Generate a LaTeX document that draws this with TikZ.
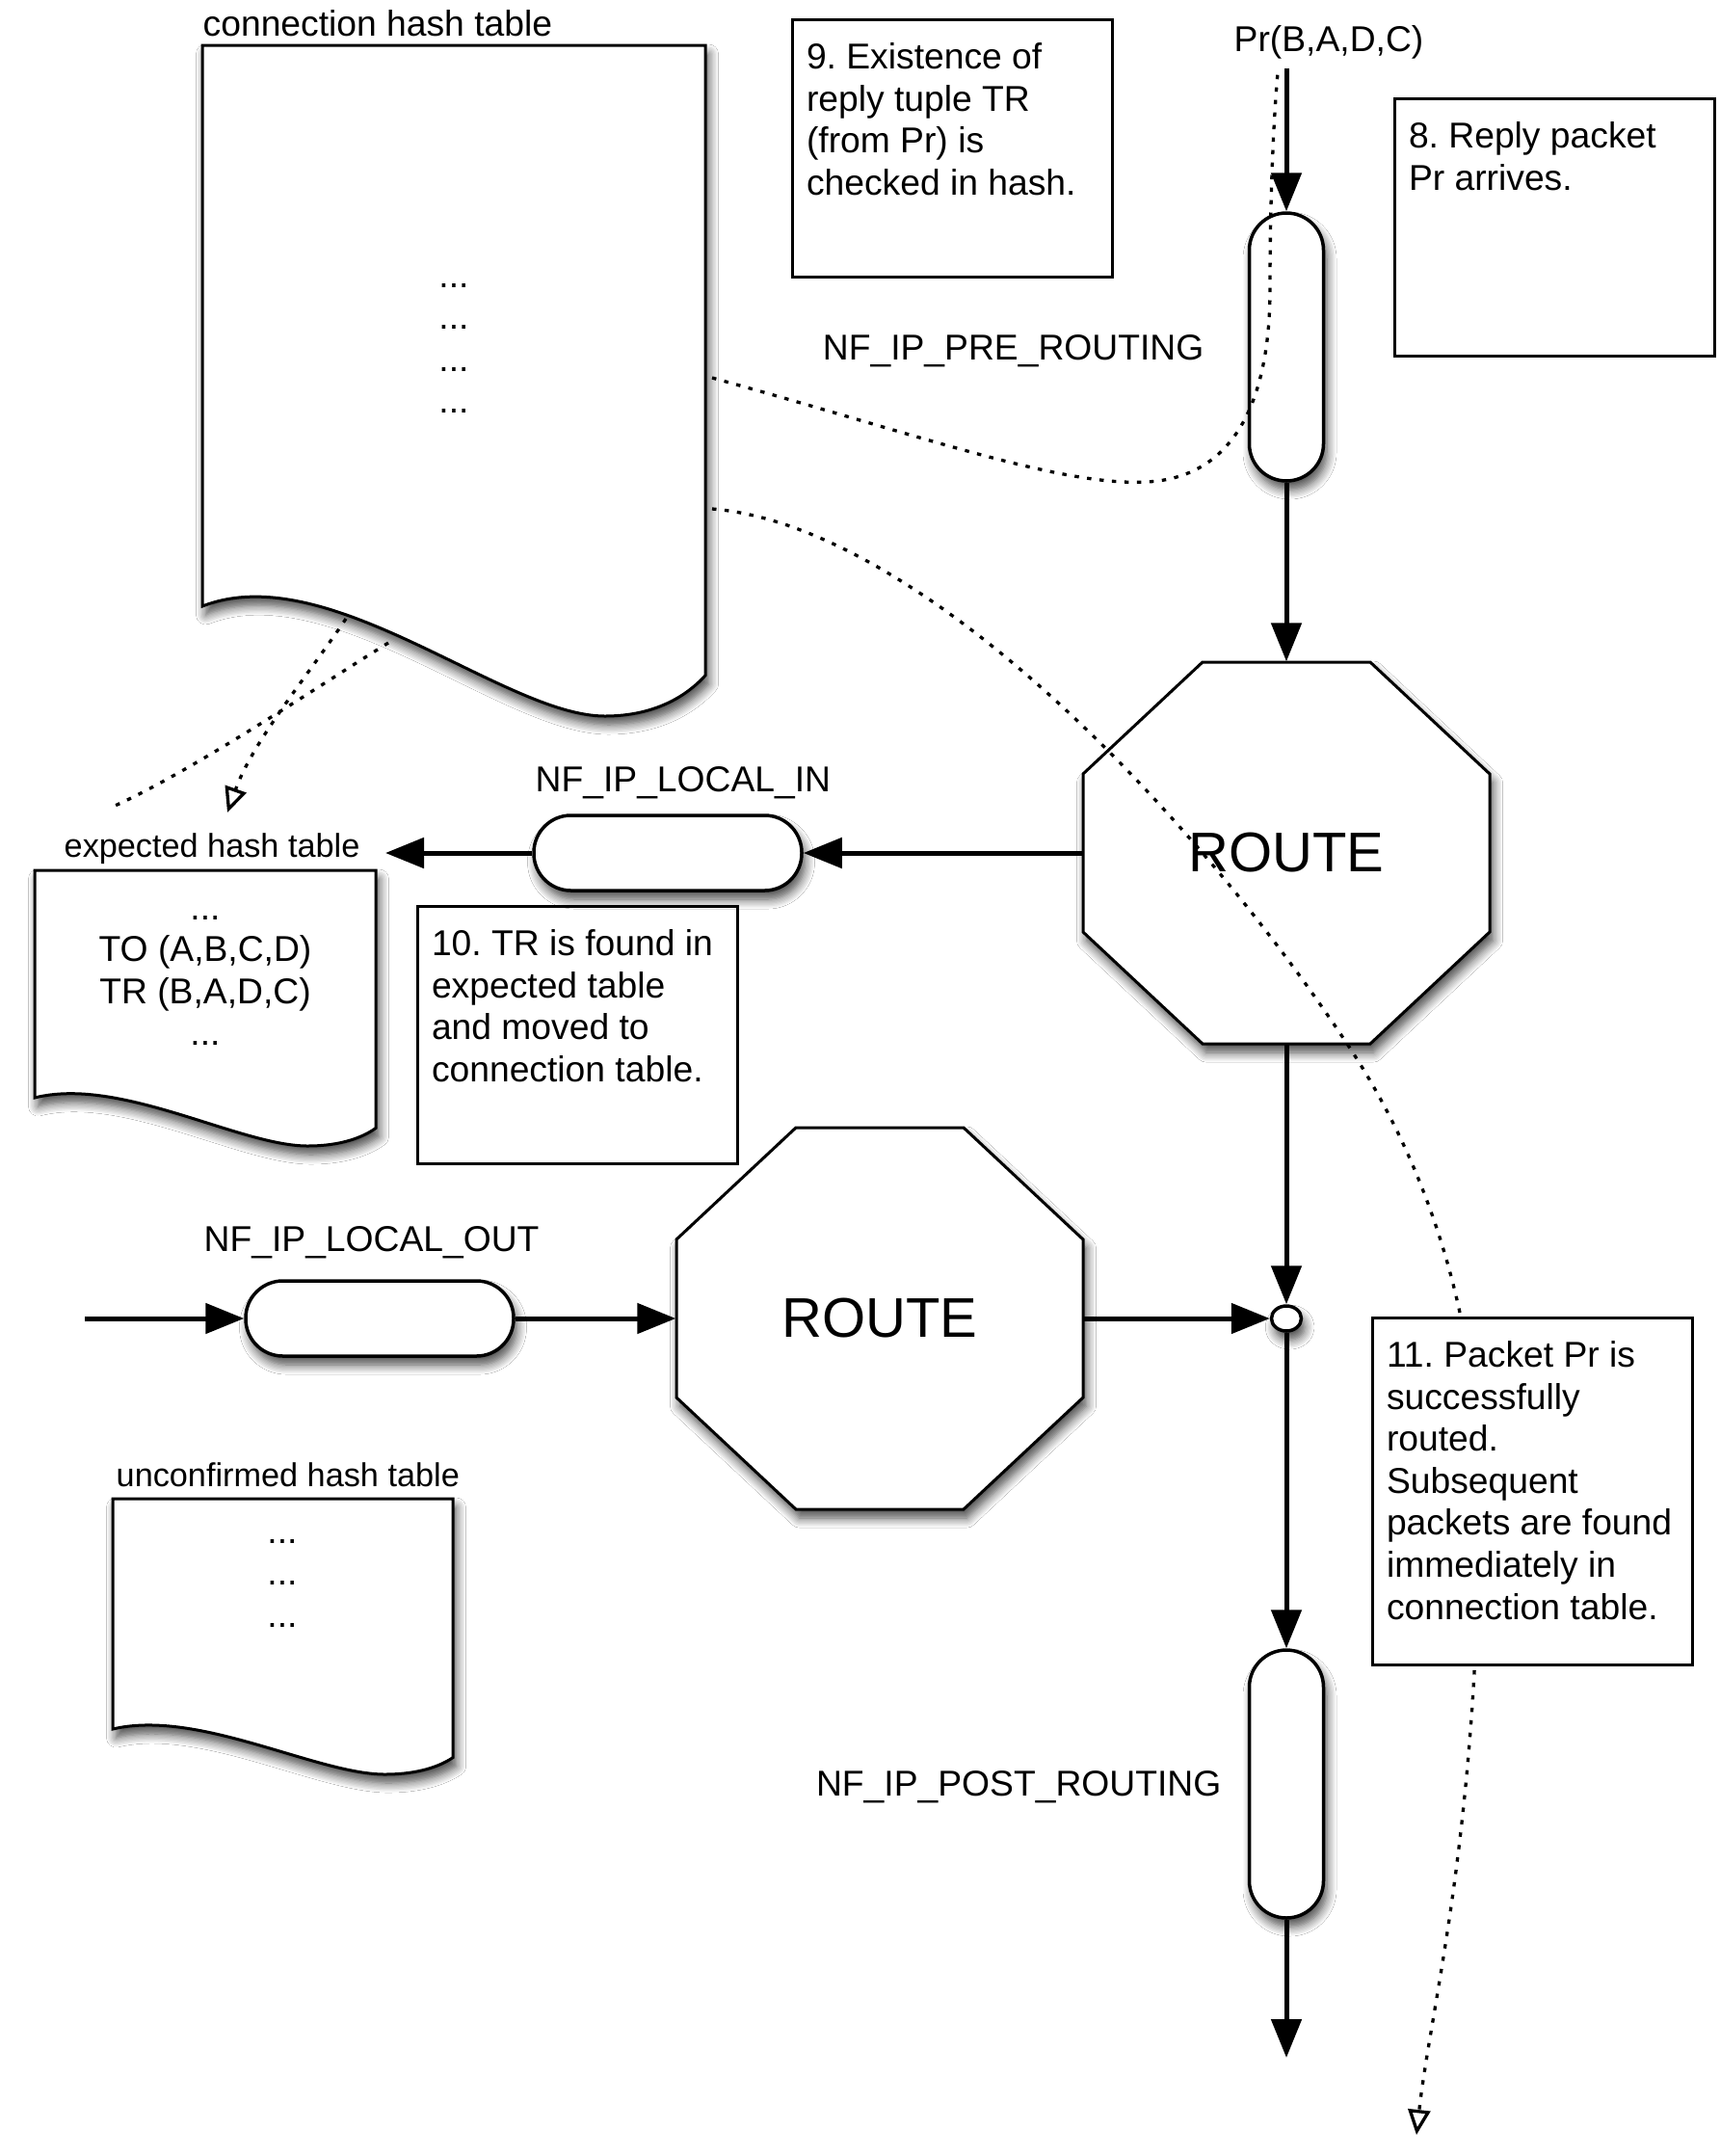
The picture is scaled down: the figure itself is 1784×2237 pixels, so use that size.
\documentclass[tikz,border=0pt]{standalone}
\usepackage{fontspec}
\setmainfont{Liberation Sans}
\usetikzlibrary{arrows.meta,shapes.geometric,shadows.blur}
\frenchspacing

\begin{document}
\begin{tikzpicture}[x=0.1mm, y=-0.1mm, >={Triangle[length=4mm,width=3.1mm]},
  font=\fontsize{10.6pt}{12.4pt}\selectfont,
  softshadow/.style={blur shadow={shadow xshift=0.35mm, shadow yshift=-0.9mm,
      shadow blur radius=1mm, shadow blur steps=8, shadow opacity=72}},
  docline/.style={draw, fill=white, line width=0.3mm, softshadow},
  octline/.style={draw, fill=white, line width=0.3mm, softshadow},
  hookbox/.style={draw, fill=white, line width=0.35mm, rounded corners=3.85mm,
      inner sep=0pt, softshadow},
  hookh/.style={hookbox, minimum width=27.8mm, minimum height=7.8mm},
  hookv/.style={hookbox, minimum width=7.7mm, minimum height=27.8mm},
  note/.style={draw, fill=white, line width=0.3mm, anchor=north west,
      inner xsep=1.45mm, inner ysep=2.05mm},
  lbl/.style={inner sep=0pt, anchor=base west},
  lblr/.style={inner sep=0pt, anchor=base east},
  tablbl/.style={lbl, font=\fontsize{9.75pt}{12pt}\selectfont},
  dots/.style={inner sep=0pt, anchor=north, align=center},
  routetxt/.style={inner sep=0pt, minimum width=42.2mm, minimum height=39.6mm,
      font=\fontsize{16.5pt}{19pt}\selectfont},
  flow/.style={->, line width=0.5mm},
  trace/.style={line width=0.33mm, dash pattern=on 0.45mm off 0.85mm},
  pics/hashdoc/.style n args={3}{code={
    \path[docline] (0,0) -- (#1,0) -- (#1,{#2+0.63*#3})
      .. controls ({0.95*#1},{#2+0.88*#3}) and ({0.88*#1},{#2+#3}) .. ({0.8*#1},{#2+#3})
      .. controls ({0.6*#1},{#2+#3}) and ({0.25*#1},{#2-0.45*#3}) .. (0,#2) -- cycle;}},
  pics/octa/.style={code={
    \path[octline] (-87,-198) -- (87,-198) -- (211,-82) -- (211,82) -- (87,198)
      -- (-87,198) -- (-211,82) -- (-211,-82) -- cycle;}}
]
\path[fill=white] (0,0) rectangle (1784,2237);
\useasboundingbox (0,0) rectangle (1784,2237);

% hash tables
\pic at (210,47) {hashdoc={522}{582}{114}};
\node[lbl] (connlbl) at (210,37) {connection hash table};
\node[dots] (conndots) at (471,267) {\strut...\\...\\...\\...};

\pic at (36,903) {hashdoc={354}{236}{50}};
\node[tablbl] (explbl) at (66,889) {expected hash table};
\node[dots] (expdots) at (213,923) {\strut...\\TO (A,B,C,D)\\TR (B,A,D,C)\\...};

\pic at (117,1555) {hashdoc={353}{239}{47}};
\node[tablbl] (unclbl) at (120,1542) {unconfirmed hash table};
\node[dots] (uncdots) at (293,1570) {\strut...\\...\\...};

% notes
\node[note] (n9) at (821,19) {\parbox[t][22.6mm][t]{30.3mm}{\strut 9. Existence of\\reply tuple TR\\(from Pr) is\\checked in hash.}};
\node[note] (n8) at (1446,101) {\parbox[t][22.6mm][t]{30.3mm}{\strut 8. Reply packet\\Pr arrives.}};
\node[note] (n10) at (432,939) {\parbox[t][22.6mm][t]{30.3mm}{\strut 10. TR is found in\\expected table\\and moved to\\connection table.}};

% hooks
\node[lblr] (prelbl) at (1250,373) {NF\_IP\_PRE\_ROUTING};
\node[hookv] (pre) at (1335,360) {};
\node[lbl] (inlbl) at (555,821) {NF\_IP\_LOCAL\_IN};
\node[hookh] (localin) at (693,885) {};
\node[lbl] (outlbl) at (211,1298) {NF\_IP\_LOCAL\_OUT};
\node[hookh] (localout) at (394,1368) {};
\node[lblr] (postlbl) at (1268,1863) {NF\_IP\_POST\_ROUTING};
\node[hookv] (post) at (1335,1851) {};

% routing decisions
\pic at (1335,885) {octa};
\node[routetxt] (route1) at (1335,885) {ROUTE};
\pic at (913,1368) {octa};
\node[routetxt] (route2) at (913,1368) {ROUTE};
\node[draw, fill=white, ellipse, line width=0.35mm, minimum width=3.1mm,
  minimum height=2.6mm, inner sep=0pt, softshadow] (junc) at (1335,1368) {};

% packet path
\node[lbl] (prlbl) at (1280,53) {Pr(B,A,D,C)};
\coordinate (prin) at (1335,71);
\coordinate (expin) at (400,885);
\coordinate (loin) at (88,1368);
\coordinate (postout) at (1335,2135);
\draw[flow] (prin) -- (pre);
\draw[flow] (pre) -- (route1);
\draw[flow] (route1) -- (localin);
\draw[flow] (localin) -- (expin);
\draw[flow] (route1) -- (junc);
\draw[flow] (loin) -- (localout);
\draw[flow] (localout) -- (route2);
\draw[flow] (route2) -- (junc);
\draw[flow] (junc) -- (post);
\draw[flow] (post) -- (postout);

% lookups
\coordinate (ta) at (739,392);
\coordinate (tb) at (739,528);
\coordinate (tc) at (359,642);
\coordinate (td) at (403,667);
\coordinate (taend) at (1326,76);
\coordinate (tbend) at (1470,2215);
\coordinate (tcend) at (236,843);
\coordinate (tdend) at (117,837);
\draw[trace] (ta) .. controls (950,450) and (1100,505) .. (1190,500)
  .. controls (1290,495) and (1318,400) .. (1318,300)
  .. controls (1318,200) and (1322,120) .. (taend);
\draw[trace, -{Triangle[open,length=2.6mm,width=2.3mm]}] (tb)
  .. controls (950,545) and (1230,830) .. (1398,1083)
  .. controls (1470,1191) and (1535,1350) .. (1535,1550)
  .. controls (1535,1900) and (1485,2080) .. (tbend);
\draw[trace, -{Triangle[open,length=2.6mm,width=2.3mm]}] (tc)
  .. controls (320,700) and (262,770) .. (tcend);
\draw[trace] (td) .. controls (330,712) and (200,800) .. (tdend);

\node[note] (n11) at (1423,1366) {\parbox[t][31.9mm][t]{30.3mm}{\strut 11. Packet Pr is\\successfully\\routed.\\Subsequent\\packets are found\\immediately in\\connection table.}};
\end{tikzpicture}
\end{document}
